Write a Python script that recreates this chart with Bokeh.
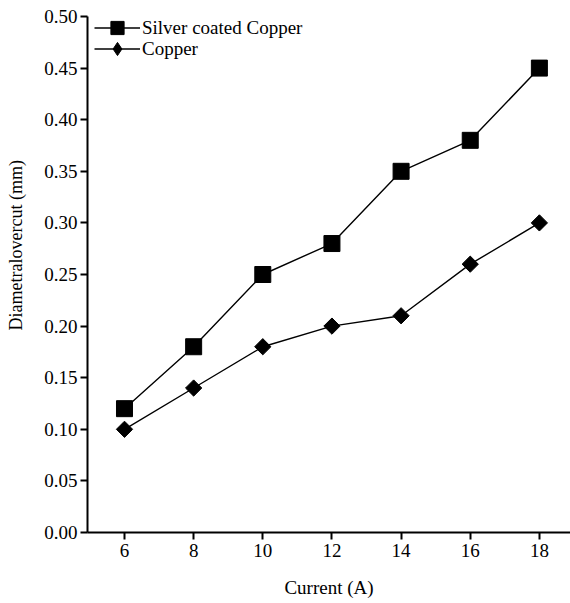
import math
from bokeh.plotting import figure
from bokeh.models import FixedTicker, PrintfTickFormatter, Legend, LegendItem, ColumnDataSource
from bokeh.embed import file_html
from bokeh.resources import INLINE

current = [6, 8, 10, 12, 14, 16, 18]
silver_coated_copper = [0.12, 0.18, 0.25, 0.28, 0.35, 0.38, 0.45]
copper = [0.10, 0.14, 0.18, 0.20, 0.21, 0.26, 0.30]
x_ticks = [6, 8, 10, 12, 14, 16, 18]
y_ticks = [0.00, 0.05, 0.10, 0.15, 0.20, 0.25, 0.30, 0.35, 0.40, 0.45, 0.50]

FONT = "Liberation Serif"
FS = "19px"

p = figure(width=570, height=603, output_backend="svg", toolbar_location=None,
           x_range=(4.93, 18.9), y_range=(0, 0.5),
           min_border_left=87, min_border_right=0, min_border_top=16, min_border_bottom=71)
p.outline_line_color = None
p.grid.visible = False

src_s = ColumnDataSource(dict(x=current, y=silver_coated_copper))
src_c = ColumnDataSource(dict(x=current, y=copper))

ls = p.line("x", "y", source=src_s, line_color="black", line_width=1.4)
ms = p.scatter("x", "y", source=src_s, marker="square", size=16, fill_color="black", line_color="black")
lc = p.line("x", "y", source=src_c, line_color="black", line_width=1.4)
mc = p.scatter("x", "y", source=src_c, marker="square", angle=math.pi / 4, size=11.5,
               fill_color="black", line_color="black")
# legend-only key for the copper series (diamond)
mc_key = p.scatter("x", "y", source=src_c, marker="diamond", size=16,
                   fill_color="black", line_color="black", visible=False)

for ax in (p.xaxis[0], p.yaxis[0]):
    ax.axis_line_width = 2
    ax.major_tick_line_width = 2
    ax.major_tick_out = 7
    ax.major_tick_in = 0
    ax.minor_tick_line_color = None
    ax.major_label_text_font = FONT
    ax.major_label_text_font_size = FS
    ax.major_label_text_color = "black"
    ax.axis_label_text_font = FONT
    ax.axis_label_text_font_size = FS
    ax.axis_label_text_font_style = "normal"
    ax.axis_label_text_color = "black"

p.xaxis.ticker = FixedTicker(ticks=x_ticks)
p.yaxis.ticker = FixedTicker(ticks=y_ticks)
p.yaxis.formatter = PrintfTickFormatter(format="%.2f")
p.xaxis.axis_label = "Current (A)"
p.xaxis.major_label_standoff = 4
p.xaxis.axis_label_standoff = 17
p.yaxis.major_label_standoff = 3
# leading no-break spaces shift the visible label towards the top, as in the reference
p.yaxis.axis_label = "\u00a0" * 13 + "Diametralovercut (mm)"
p.yaxis.axis_label_text_font_size = "18px"
p.yaxis.axis_label_standoff = 15


def make_legend(label, renderers, loc):
    lg = Legend(items=[LegendItem(label=label, renderers=renderers)], location=loc)
    lg.border_line_color = None
    lg.background_fill_alpha = 0
    lg.padding = 0
    lg.margin = 0
    lg.spacing = 0
    lg.glyph_width = 46
    lg.glyph_height = 33
    lg.label_standoff = 2
    lg.label_text_font = FONT
    lg.label_text_font_size = FS
    lg.label_text_color = "black"
    return lg


p.add_layout(make_legend("Silver coated Copper", [ls, ms], (7, 488)), "center")
p.add_layout(make_legend("Copper", [lc, mc_key], (7, 467)), "center")

open("out.html", "w").write(file_html(p, INLINE))
